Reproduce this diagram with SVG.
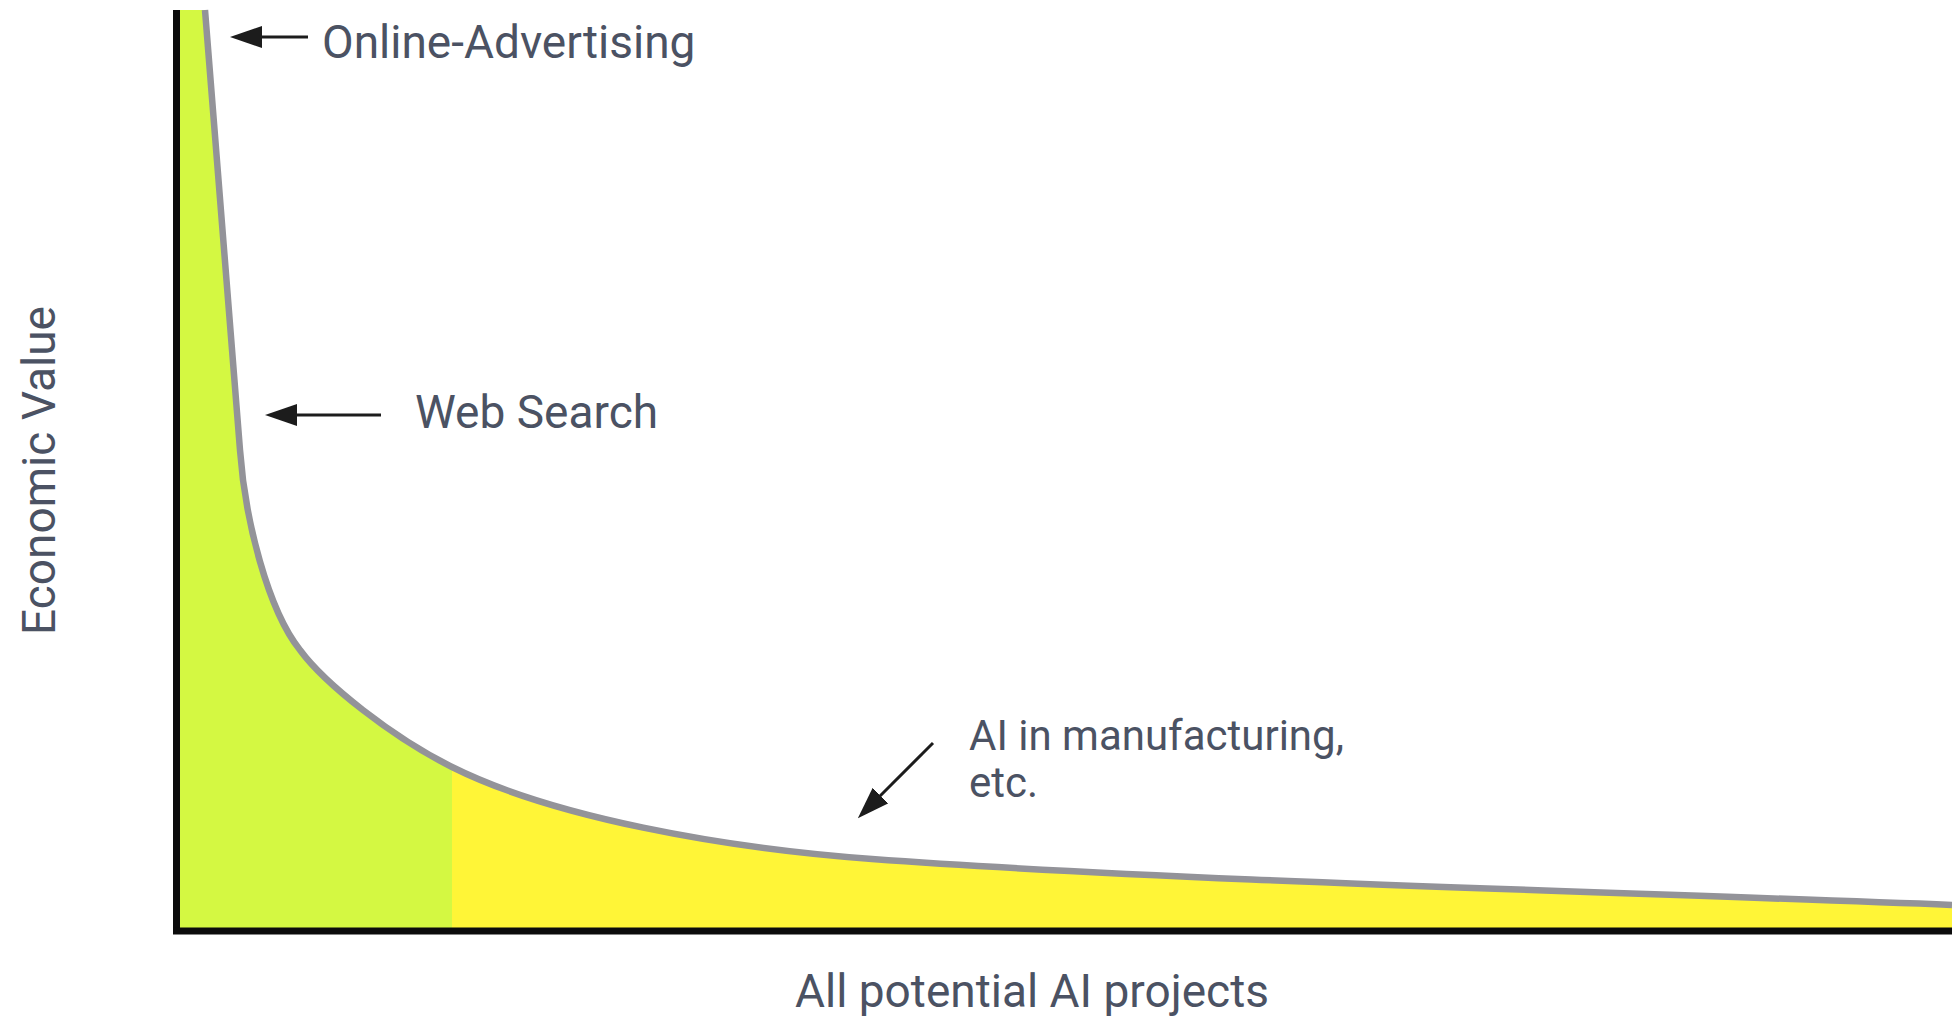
<svg xmlns="http://www.w3.org/2000/svg" width="1952" height="1024" viewBox="0 0 1952 1024">
  <style>
    .lbl { font-family: Roboto, "Liberation Sans", sans-serif; font-size: 46px; fill: #4b5263; }
    .lbl-sm { font-size: 42px; }
    .conn { stroke: #1c1c1c; stroke-width: 3; fill: none; marker-end: url(#arrow); }
    .axis { stroke: #0b0b0b; stroke-width: 7; fill: none; }
    .curve { stroke: #939399; stroke-width: 6.5; fill: none; stroke-linejoin: round; }
  </style>
  <defs>
    <marker id="arrow" markerUnits="userSpaceOnUse" viewBox="0 0 32 22" refX="12" refY="11" markerWidth="32" markerHeight="22" orient="auto">
      <path d="M0,0 L32,11 L0,22 Z" fill="#1c1c1c"/>
    </marker>
    <clipPath id="areaClip">
      <path d="M176,10 L205,10 L240,450 C245,520 268,610 300,650 C325,684 392,737 452,767 C552,817 722,848 872,859 C1172,881 1652,893 1952,905 L1952,931 L176,931 Z"/>
    </clipPath>
  </defs>
  <rect width="1952" height="1024" fill="#ffffff"/>

  <g id="chart">
    <g clip-path="url(#areaClip)">
      <rect x="176" y="0" width="276" height="940" fill="#d4f842"/>
      <rect x="452" y="0" width="1500" height="940" fill="#fff537"/>
    </g>
    <path class="curve" d="M205,10 L240,450 C245,520 268,610 300,650 C325,684 392,737 452,767 C552,817 722,848 872,859 C1172,881 1652,893 1952,905"/>
    <line class="axis" x1="176.5" y1="10" x2="176.5" y2="934"/>
    <line class="axis" x1="173" y1="931" x2="1952" y2="931"/>
  </g>

  <g id="connectors">
    <path class="conn" d="M308,37 L250,37"/>
    <path class="conn" d="M381,415 L285,415"/>
    <path class="conn" d="M933,743 L872,804"/>
  </g>

  <g id="label-online-advertising">
    <text class="lbl" x="322" y="58">Online-Advertising</text>
  </g>
  <g id="label-web-search">
    <text class="lbl" x="415" y="428">Web Search</text>
  </g>
  <g id="label-ai-manufacturing">
    <text class="lbl lbl-sm" x="969" y="750">AI in manufacturing,</text>
    <text class="lbl lbl-sm" x="969" y="797">etc.</text>
  </g>
  <g id="label-x-axis">
    <text class="lbl" x="795" y="1007">All potential AI projects</text>
  </g>
  <g id="label-y-axis">
    <text class="lbl" transform="translate(55,635) rotate(-90)">Economic Value</text>
  </g>
</svg>
